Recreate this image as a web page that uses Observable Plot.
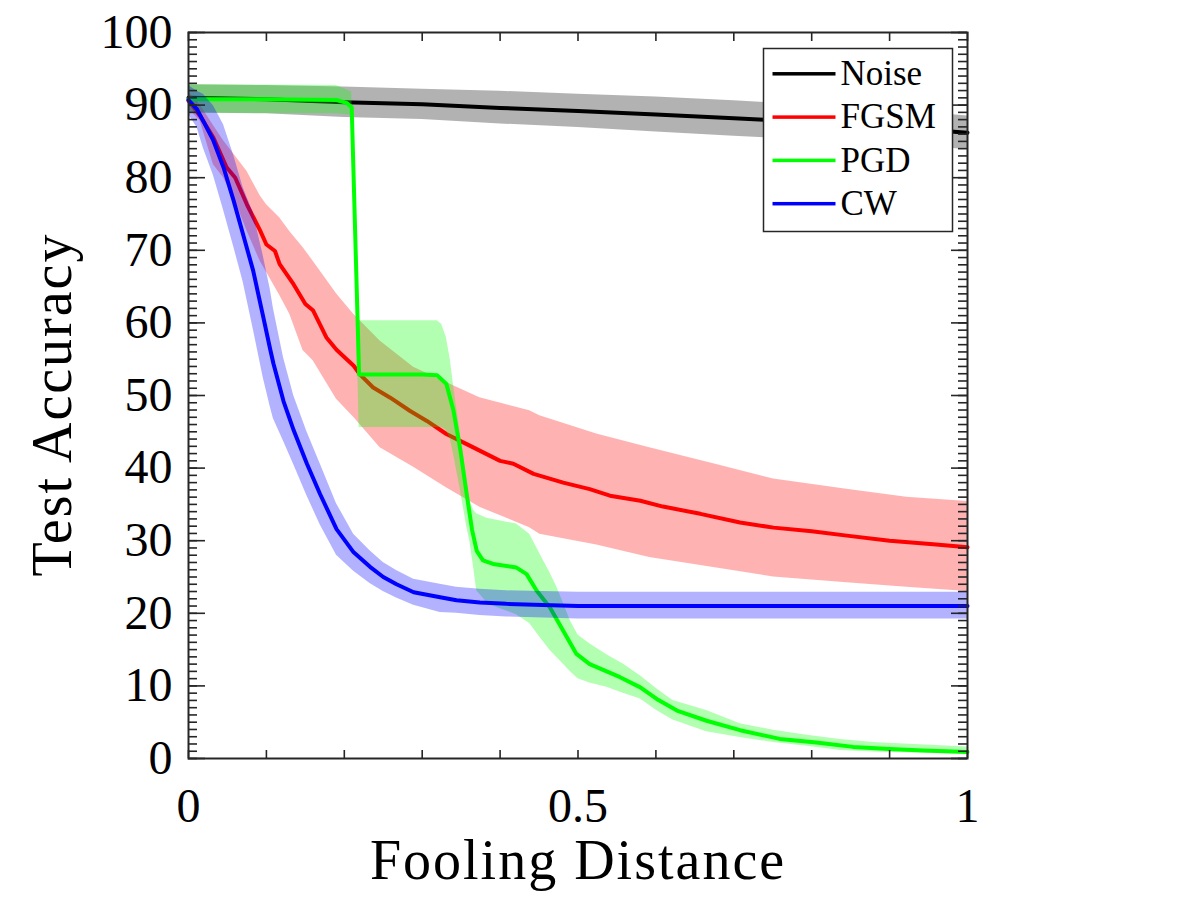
<!DOCTYPE html>
<html>
<head>
<meta charset="utf-8">
<script src="https://cdn.jsdelivr.net/npm/d3@7"></script>
<script src="https://cdn.jsdelivr.net/npm/@observablehq/plot@0.6"></script>
<style>
  body { margin: 0; background: #fff; }
  g[font-size="56"] text { letter-spacing: 2px; }
</style>
</head>
<body>
<div id="chart"></div>
<script>
// ---------- data ----------
const seriesNames = ["Noise", "FGSM", "PGD", "CW"];
const seriesColors = ["#000000", "#ff0000", "#00ff00", "#0000ff"];

const xTickValues = [0, 0.1, 0.2, 0.3, 0.4, 0.5, 0.6, 0.7, 0.8, 0.9, 1.0];
const xTickLabels = [0, 0.5, 1];
const yTickLabels = [0, 10, 20, 30, 40, 50, 60, 70, 80, 90, 100];
const yMinorTicks = d3.range(0, 101, 1);
const xAxisTitle = "Fooling Distance";
const yAxisTitle = "Test Accuracy";

// Noise
const noiseX    = [0, 0.1, 0.2, 0.3, 0.4, 0.5, 0.6, 0.7, 0.8, 0.9, 1.0];
const noiseMean = [91.0, 90.8, 90.4, 90.1, 89.6, 89.2, 88.7, 88.2, 87.6, 87.0, 86.2];
const noiseHi   = [92.8, 92.7, 92.5, 92.2, 91.9, 91.5, 91.1, 90.6, 90.0, 89.4, 88.5];
const noiseLo   = [88.9, 88.8, 88.3, 88.0, 87.4, 86.9, 86.3, 85.7, 85.2, 84.6, 83.9];

// FGSM
const fgsmX    = [0, 0.015, 0.032, 0.049, 0.06, 0.075, 0.092, 0.10, 0.111, 0.117, 0.135, 0.150, 0.160, 0.177, 0.19, 0.203, 0.212, 0.220, 0.237, 0.259, 0.284, 0.306, 0.331, 0.361, 0.40, 0.417, 0.443, 0.481, 0.515, 0.541, 0.58, 0.609, 0.657, 0.708, 0.751, 0.80, 0.845, 0.90, 0.956, 1.0];
const fgsmMean = [90.6, 88.5, 85.5, 81.4, 80.0, 76.3, 72.7, 70.8, 69.9, 68.1, 65.3, 62.6, 61.7, 58.0, 56.3, 55.0, 54.1, 52.9, 51.1, 49.7, 47.9, 46.5, 44.7, 43.1, 41.0, 40.6, 39.2, 38.0, 37.1, 36.2, 35.5, 34.7, 33.7, 32.5, 31.8, 31.3, 30.7, 30.0, 29.5, 29.1];
const fgsmBandX = [0, 0.015, 0.032, 0.045, 0.06, 0.075, 0.092, 0.10, 0.117, 0.13, 0.147, 0.16, 0.19, 0.212, 0.246, 0.289, 0.331, 0.374, 0.438, 0.451, 0.524, 0.592, 0.674, 0.751, 0.845, 0.922, 1.0];
const fgsmHi    = [91.8, 90.0, 87.2, 85.1, 83.0, 80.9, 77.5, 76.3, 74.5, 72.6, 70.4, 68.5, 64.0, 61.2, 57.5, 53.9, 51.8, 49.7, 47.9, 47.2, 44.7, 42.8, 40.6, 38.5, 37.1, 36.0, 35.4];
const fgsmLo    = [89.5, 87.8, 81.8, 80.0, 76.8, 72.7, 68.5, 67.0, 63.8, 61.2, 56.2, 54.8, 49.5, 47.0, 42.8, 40.1, 37.3, 34.6, 31.8, 30.9, 29.4, 27.7, 26.3, 25.0, 24.2, 23.6, 23.0];

// PGD
const pgdX    = [0, 0.1, 0.19, 0.203, 0.2095, 0.219, 0.25, 0.30, 0.319, 0.331, 0.340, 0.349, 0.357, 0.364, 0.370, 0.378, 0.391, 0.421, 0.434, 0.447, 0.464, 0.481, 0.498, 0.515, 0.554, 0.580, 0.601, 0.627, 0.665, 0.708, 0.759, 0.806, 0.853, 0.900, 0.943, 1.0];
const pgdMean = [90.8, 90.8, 90.7, 90.3, 89.7, 52.9, 52.9, 52.9, 52.8, 51.6, 48.0, 42.5, 36.5, 31.5, 28.6, 27.3, 26.8, 26.3, 25.4, 23.1, 20.8, 17.6, 14.4, 13.0, 11.2, 9.8, 8.2, 6.6, 5.2, 3.9, 2.7, 2.2, 1.6, 1.3, 1.1, 0.9];
const pgdBandX = [0, 0.19, 0.2095, 0.219, 0.319, 0.325, 0.331, 0.336, 0.340, 0.349, 0.357, 0.361, 0.366, 0.370, 0.383, 0.396, 0.421, 0.438, 0.451, 0.464, 0.473, 0.481, 0.490, 0.500, 0.515, 0.537, 0.558, 0.580, 0.601, 0.622, 0.665, 0.708, 0.751, 0.794, 0.837, 0.879, 1.0];
const pgdHi    = [92.8, 92.7, 91.8, 60.3, 60.3, 59.8, 58.0, 55.0, 51.6, 44.7, 38.5, 35.5, 34.2, 33.7, 33.1, 32.8, 32.3, 30.9, 28.2, 25.6, 23.6, 21.5, 19.0, 17.0, 15.8, 14.3, 13.0, 11.4, 9.6, 8.0, 6.6, 4.8, 3.9, 3.2, 2.6, 2.2, 1.6];
const pgdLo    = [88.9, 88.8, 88.6, 45.6, 45.6, 45.6, 45.2, 44.0, 42.0, 37.0, 32.0, 30.0, 26.3, 23.1, 21.5, 20.8, 19.8, 18.6, 16.7, 14.9, 13.9, 13.0, 12.0, 11.0, 10.4, 9.8, 9.0, 8.2, 6.6, 5.3, 3.7, 2.9, 2.2, 1.7, 1.1, 0.9, 0.6];

// CW
const cwX    = [0, 0.011, 0.019, 0.032, 0.045, 0.058, 0.070, 0.083, 0.096, 0.105, 0.109, 0.122, 0.135, 0.152, 0.169, 0.190, 0.212, 0.233, 0.250, 0.267, 0.289, 0.323, 0.344, 0.374, 0.408, 0.5, 0.7, 1.0];
const cwMean = [90.7, 89.4, 87.8, 85.1, 81.4, 76.8, 72.2, 67.2, 60.8, 56.3, 54.4, 49.2, 45.2, 40.6, 36.4, 31.6, 28.4, 26.4, 25.0, 24.0, 22.9, 22.2, 21.8, 21.5, 21.3, 21.0, 21.0, 21.0];
const cwHi   = [92.7, 91.9, 91.5, 89.9, 87.3, 83.1, 78.7, 75.2, 69.2, 64.6, 62.0, 55.2, 50.0, 45.0, 40.6, 35.1, 30.9, 28.6, 27.0, 25.9, 24.7, 24.0, 23.6, 23.3, 23.1, 22.9, 22.9, 22.9];
const cwLo   = [88.7, 86.9, 84.1, 80.3, 75.5, 70.5, 65.7, 59.2, 52.4, 48.4, 46.8, 43.7, 40.5, 36.2, 32.2, 28.0, 25.8, 24.1, 23.0, 22.1, 21.1, 20.1, 20.0, 19.7, 19.5, 19.2, 19.2, 19.2];

// ---------- tables ----------
const lineTable = (xs, ys) => xs.map((x, i) => ({x, y: ys[i]}));
const bandTable = (xs, lo, hi) => xs.map((x, i) => ({x, lo: lo[i], hi: hi[i]}));

const series = [
  {band: bandTable(noiseX, noiseLo, noiseHi), line: lineTable(noiseX, noiseMean)},
  {band: bandTable(fgsmBandX, fgsmLo, fgsmHi), line: lineTable(fgsmX, fgsmMean)},
  {band: bandTable(pgdBandX, pgdLo, pgdHi), line: lineTable(pgdX, pgdMean)},
  {band: bandTable(cwX, cwLo, cwHi), line: lineTable(cwX, cwMean)}
];

// ---------- layout ----------
const W = 1181, H = 909;
const mL = 188, mR = 214, mT = 32, mB = 151;
const fw = W - mL - mR, fh = H - mT - mB;
const axisColor = "#262626";
const serif = "'Liberation Serif', 'Times New Roman', serif";

const dataMarks = [];
series.forEach((s, i) => {
  dataMarks.push(Plot.areaY(s.band, {x: "x", y1: "lo", y2: "hi", fill: seriesColors[i], fillOpacity: 0.3, curve: "linear"}));
  dataMarks.push(Plot.line(s.line, {x: "x", y: "y", stroke: seriesColors[i], strokeWidth: 4, strokeLinejoin: "round", curve: "linear"}));
});

const tickMarks = [
  Plot.tickX(xTickValues, {x: d => d, insetTop: fh - 8, stroke: axisColor, strokeWidth: 1.6}),
  Plot.tickX(xTickValues, {x: d => d, insetBottom: fh - 9, stroke: axisColor, strokeWidth: 1.6}),
  Plot.tickY(yMinorTicks, {y: d => d, insetRight: fw - 9, stroke: axisColor, strokeWidth: 1.6}),
  Plot.tickY(yTickLabels, {y: d => d, insetRight: fw - 17, stroke: axisColor, strokeWidth: 1.6}),
  Plot.tickY(yMinorTicks, {y: d => d, insetLeft: fw - 9, stroke: axisColor, strokeWidth: 1.6}),
  Plot.tickY(yTickLabels, {y: d => d, insetLeft: fw - 16, stroke: axisColor, strokeWidth: 1.6}),
  Plot.frame({stroke: axisColor, strokeWidth: 2})
];

// legend (inside the frame, top right)
const legendBox = {left: 575, right: 15, top: 16, bottom: fh - 199};
const legendRowTop = 41.3, legendRowStep = 43.3;
const legendMarks = [
  Plot.frame({fill: "#fff", stroke: axisColor, strokeWidth: 1.5,
    insetLeft: legendBox.left, insetRight: legendBox.right, insetTop: legendBox.top, insetBottom: legendBox.bottom})
];
seriesNames.forEach((name, i) => {
  const cy = legendRowTop + i * legendRowStep;
  legendMarks.push(Plot.frame({fill: seriesColors[i], stroke: "none",
    insetLeft: 584, insetRight: 132, insetTop: cy - 1.75, insetBottom: fh - cy - 1.75}));
  legendMarks.push(Plot.text([name], {frameAnchor: "top-left", dx: 652, dy: cy,
    textAnchor: "start", lineAnchor: "middle", fontSize: 35, fill: "#000"}));
});

const chart = Plot.plot({
  width: W, height: H,
  marginLeft: mL, marginRight: mR, marginTop: mT, marginBottom: mB,
  x: {domain: [0, 1]},
  y: {domain: [0, 100]},
  style: {fontFamily: serif, color: "#000", background: "#fff"},
  marks: [
    ...dataMarks,
    ...tickMarks,
    Plot.axisY(yTickLabels, {anchor: "left", tickSize: 0, tickPadding: 16, fontSize: 48, label: null, tickFormat: d => String(d)}),
    Plot.axisX(xTickLabels, {anchor: "bottom", tickSize: 0, tickPadding: 29, fontSize: 48, label: null, tickFormat: d => String(d)}),
    Plot.text([xAxisTitle], {frameAnchor: "bottom", dy: 81, textAnchor: "middle", lineAnchor: "top", fontSize: 56, fill: "#000"}),
    Plot.text([yAxisTitle], {frameAnchor: "left", dx: -135, dy: 9, rotate: -90, textAnchor: "middle", lineAnchor: "middle", fontSize: 56, fill: "#000"}),
    ...legendMarks
  ]
});
document.getElementById("chart").appendChild(chart);
</script>
</body>
</html>
